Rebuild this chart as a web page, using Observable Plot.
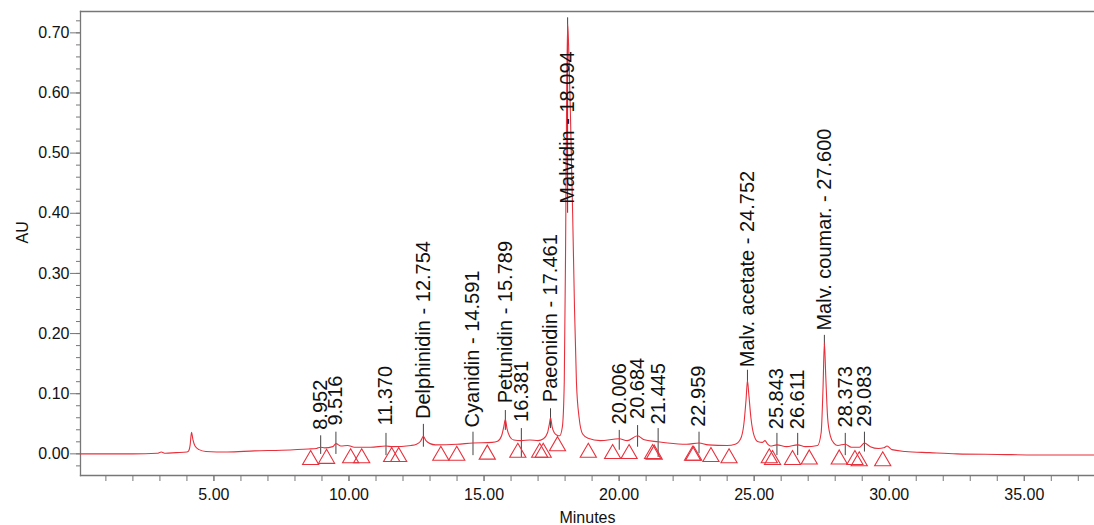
<!DOCTYPE html>
<html>
<head>
<meta charset="utf-8">
<script src="https://cdn.jsdelivr.net/npm/d3@7"></script>
<script src="https://cdn.jsdelivr.net/npm/@observablehq/plot@0.6"></script>
<style>
  html, body { margin: 0; padding: 0; background: #fff; }
  #chart svg { display: block; }
</style>
</head>
<body>
<div id="chart"></div>
<script>
// Chromatogram trace (minutes, AU)
const time = [0.06, 1.0, 2.0, 2.9, 3.05, 3.2, 3.6, 4.0, 4.05, 4.12, 4.17, 4.22, 4.3, 4.45, 4.7, 5.5, 6.5, 7.5, 8.5,
  8.8, 8.95, 9.1, 9.4, 9.52, 9.7, 9.95, 10.2, 10.8, 11.37, 11.6, 12.3, 12.5, 12.65, 12.754, 12.85, 13.0, 13.2, 14.0,
  14.59, 15.3, 15.5, 15.65, 15.73, 15.789, 15.85, 15.95, 16.1, 16.38, 16.7, 17.0, 17.2, 17.35, 17.42, 17.461, 17.52,
  17.6, 17.7, 17.8, 17.9, 17.97, 18.02, 18.06, 18.094, 18.13, 18.2, 18.28, 18.35, 18.42, 18.52, 18.65, 18.85, 19.3,
  20.006, 20.3, 20.684, 20.9, 21.445, 21.8, 22.5, 22.959, 23.3, 24.0, 24.3, 24.5, 24.62, 24.7, 24.752, 24.8, 24.88,
  25.0, 25.15, 25.3, 25.4, 25.5, 25.6, 25.843, 26.2, 26.611, 26.9, 27.35, 27.48, 27.55, 27.6, 27.65, 27.72, 27.82,
  27.95, 28.1, 28.373, 28.6, 28.9, 29.083, 29.3, 29.6, 29.8, 29.92, 30.1, 30.6, 31.5, 32.5, 34.0, 36.0, 37.6];
const au = [0.000, 0.000, 0.000, 0.001, 0.003, 0.001, 0.002, 0.003, 0.004, 0.015, 0.036, 0.024, 0.013, 0.007, 0.004, 0.003, 0.005, 0.006, 0.008,
  0.009, 0.011, 0.010, 0.012, 0.017, 0.013, 0.014, 0.011, 0.011, 0.013, 0.012, 0.014, 0.016, 0.021, 0.029, 0.022, 0.017, 0.015, 0.016,
  0.018, 0.019, 0.021, 0.030, 0.045, 0.057, 0.042, 0.029, 0.023, 0.022, 0.023, 0.022, 0.025, 0.035, 0.050, 0.060, 0.045,
  0.035, 0.031, 0.030, 0.045, 0.120, 0.350, 0.600, 0.715, 0.680, 0.560, 0.400, 0.240, 0.120, 0.060, 0.033, 0.026, 0.022,
  0.025, 0.022, 0.030, 0.024, 0.020, 0.018, 0.016, 0.018, 0.015, 0.014, 0.016, 0.025, 0.050, 0.090, 0.122, 0.100, 0.060,
  0.030, 0.020, 0.019, 0.022, 0.016, 0.013, 0.015, 0.012, 0.015, 0.012, 0.014, 0.035, 0.110, 0.185, 0.130, 0.060, 0.030,
  0.018, 0.014, 0.016, 0.011, 0.011, 0.018, 0.012, 0.009, 0.010, 0.013, 0.007, 0.004, 0.002, 0.000, -0.001, -0.002, -0.002];

// Integration markers (triangles)
const markT = [8.58, 9.17, 10.06, 10.47, 11.58, 11.84, 13.40, 13.99, 15.12, 16.25, 17.06, 17.19, 17.72, 18.86, 19.76,
  20.37, 21.24, 21.30, 22.72, 22.76, 23.40, 24.07, 25.56, 25.68, 26.42, 27.04, 28.15, 28.73, 28.89, 29.76];
const markV = [-0.010, -0.008, -0.007, -0.007, -0.005, -0.005, -0.003, -0.003, -0.001, 0.002, 0.002, 0.002, 0.013, 0.002, 0.000,
  0.000, 0.000, -0.001, -0.003, -0.003, -0.005, -0.007, -0.007, -0.010, -0.010, -0.009, -0.009, -0.010, -0.012, -0.012];

// Peak annotations
const peakTime = ["8.952", "9.516", "11.370", "12.754", "14.591", "15.789", "16.381", "17.461", "18.094", "20.006",
  "20.684", "21.445", "22.959", "24.752", "25.843", "26.611", "27.600", "28.373", "29.083"];
const peakName = ["", "", "", "Delphinidin", "Cyanidin", "Petunidin", "", "Paeonidin", "Malvidin", "",
  "", "", "", "Malv. acetate", "", "", "Malv. coumar.", "", ""];
const labelV = [0.040, 0.047, 0.047, 0.058, 0.044, 0.084, 0.053, 0.086, 0.416, 0.049,
  0.058, 0.049, 0.045, 0.144, 0.041, 0.041, 0.205, 0.044, 0.045];
const lineTop = [0.030, 0.036, 0.034, 0.049, 0.036, 0.072, 0.042, 0.075, 0.725, 0.039,
  0.047, 0.042, 0.036, 0.139, 0.034, 0.034, 0.197, 0.034, 0.036];
const lineBottom = [-0.001, -0.001, -0.003, 0.011, -0.003, 0.039, -0.006, 0.042, 0.400, 0.006,
  0.011, -0.006, 0.000, 0.117, -0.003, -0.003, 0.180, -0.003, 0.003];

// Axis ticks
const xLabelTicks = [5, 10, 15, 20, 25, 30, 35];
const xMinorTicks = d3.range(1, 38, 1);
const yLabelTicks = [0, 0.1, 0.2, 0.3, 0.4, 0.5, 0.6, 0.7];
const yMinorTicks = d3.range(-0.02, 0.73, 0.02).map(v => +v.toFixed(2));

const trace = time.map((t, i) => ({t, v: au[i]}));
const marks = markT.map((t, i) => ({t, v: markV[i]}));
const peaks = peakTime.map((s, i) => ({
  t: +s,
  text: peakName[i] ? `${peakName[i]} - ${s}` : s,
  lv: labelV[i], y1: lineBottom[i], y2: lineTop[i]
}));

const red = "#e8303c";
const axisGray = "#777";
const font = "Liberation Sans, Arial, Helvetica, sans-serif";

const chart = Plot.plot({
  width: 1094,
  height: 525,
  marginLeft: 80,
  marginRight: 0,
  marginTop: 11,
  marginBottom: 50,
  style: {fontFamily: font, fontSize: "16px", color: "#111", background: "#fff"},
  x: {domain: [0.06, 37.6]},
  y: {domain: [-0.036, 0.7355]},
  marks: [
    Plot.frame({anchor: "top", stroke: axisGray, strokeWidth: 1.3}),
    Plot.frame({anchor: "left", stroke: axisGray, strokeWidth: 1.3}),
    Plot.frame({anchor: "bottom", stroke: axisGray, strokeWidth: 1.3}),
    Plot.axisX({ticks: xMinorTicks, tickSize: 6, text: null, stroke: axisGray, label: null}),
    Plot.axisX({ticks: xLabelTicks, tickSize: 6, tickPadding: 7, tickFormat: d3.format(".2f"),
      stroke: axisGray, fontSize: 16, label: null}),
    Plot.axisY({ticks: yMinorTicks, tickSize: 4, text: null, stroke: axisGray, label: null}),
    Plot.axisY({ticks: yLabelTicks, tickSize: 10, tickPadding: 1, tickFormat: d3.format(".2f"),
      stroke: axisGray, fontSize: 16, label: null}),
    Plot.text(["Minutes"], {frameAnchor: "bottom", dy: 42, lineAnchor: "middle", fontSize: 16, fill: "#111"}),
    Plot.text(["AU"], {frameAnchor: "left", dx: -58, rotate: -90, lineAnchor: "middle", fontSize: 16, fill: "#111"}),
    Plot.ruleX(peaks, {x: "t", y1: "y1", y2: "y2", stroke: "#444", strokeWidth: 1}),
    Plot.line(trace, {x: "t", y: "v", stroke: red, strokeWidth: 1.1, curve: "monotone-x"}),
    Plot.dot(marks, {x: "t", y: "v", symbol: "triangle", r: 6, stroke: red, fill: "none", strokeWidth: 1.1}),
    Plot.text(peaks, {x: "t", y: "lv", text: "text", rotate: -90, textAnchor: "start", lineAnchor: "middle",
      fontSize: 20, fill: "#111"})
  ]
});
document.getElementById("chart").appendChild(chart);
</script>
</body>
</html>
